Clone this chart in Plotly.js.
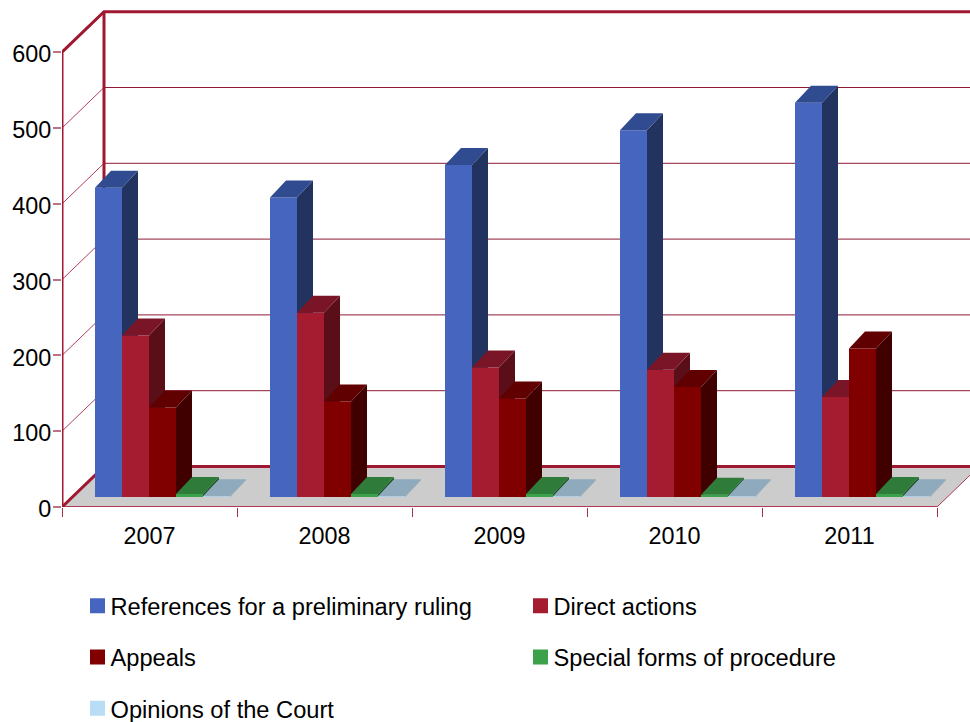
<!DOCTYPE html>
<html>
<head>
<meta charset="utf-8">
<script src="https://cdn.plot.ly/plotly-3.0.1.min.js"></script>
<style>
html,body{margin:0;padding:0;background:#fff}
/* the reference sets the legend text closer to its swatch than Plotly's default gap */
.infolayer text{transform:translateX(-7px)}
</style>
</head>
<body>
<div id="chart" style="width:970px;height:722px"></div>
<script>
// ---- data ----
const years = ['2007', '2008', '2009', '2010', '2011'];
const yTicks = [0, 100, 200, 300, 400, 500, 600];
const references = [408, 395, 438, 484, 520];
const directActions = [213, 243, 171, 168, 132];
const appeals = [118, 126, 130, 145, 196];
const specialForms = [4, 4, 4, 3, 4];
const opinions = [1, 1, 1, 1, 1];
const seriesNames = ['References for a preliminary ruling', 'Direct actions', 'Appeals', 'Special forms of procedure', 'Opinions of the Court'];

// ---- style ----
const values = [references, directActions, appeals, specialForms, opinions];
const frontColors = ['#4565BF', '#A51C30', '#800000', '#3BA24B', '#B9DDF5'];
const topColors = ['#304B90', '#7A1527', '#600000', '#2F7B3A', '#8FAABD'];
const sideColors = ['#22335F', '#5A0E18', '#400000', '#1F5528', '#7D97A8'];
const legendHome = ['', '2', '', '2', ''];

const pxPerCat = 175, pxPerUnit = 0.758;
const px = d => d / pxPerCat, py = d => d / pxPerUnit;
const wallDX = px(42), wallDY = py(40.5);
const barDX = px(16), barDY = py(17);
const baseY = py(10);
const barW = px(27), firstBar = px(33);
const xStart = -0.5, xEnd = xStart + 908 / pxPerCat;
const yEnd = py(507);
const xRange = [xStart, xEnd], yRange = [0, yEnd];
const font = {family: '"Liberation Sans", Arial, sans-serif', size: 23.4, color: '#000'};
const legendFont = {family: '"Liberation Sans", Arial, sans-serif', size: 23.65, color: '#000'};

const poly = (pts, extra) => Object.assign({
  x: pts.map(p => p ? p[0] : null), y: pts.map(p => p ? p[1] : null),
  type: 'scatter', mode: 'none', fill: 'toself', cliponaxis: false,
  showlegend: false, hoverinfo: 'skip'
}, extra);
const line = (pts, color, width, extra) => Object.assign({
  x: pts.map(p => p ? p[0] : null), y: pts.map(p => p ? p[1] : null),
  type: 'scatter', mode: 'lines', line: {color, width}, cliponaxis: false,
  showlegend: false, hoverinfo: 'skip'
}, extra);

const traces = [];
const lastX = years.length - 0.5;
// floor
traces.push(poly([[xStart, 0], [xStart + wallDX, wallDY], [lastX + wallDX, wallDY], [lastX, 0]], {fillcolor: '#CCCCCC'}));
// back-wall grid lines and their diagonals
const gridPts = [], diagPts = [];
yTicks.slice(1, -1).forEach(v => {
  gridPts.push([xStart + wallDX, v + wallDY], [xEnd + 1, v + wallDY], null);
  diagPts.push([xStart, v], [xStart + wallDX, v + wallDY], null);
});
traces.push(line(gridPts, '#8E1A33', 1));
traces.push(line(diagPts, '#B0405A', 1));
// frame
const wallTop = yTicks[yTicks.length - 1];
traces.push(line([[xStart, 0], [lastX, 0]], '#B03A55', 2));
traces.push(line([[lastX, 0], [lastX + wallDX, wallDY]], '#B03A55', 1));
traces.push(line([[xStart + wallDX, wallDY], [xEnd + 1, wallDY]], '#A01830', 3));
traces.push(line([[xStart, 0], [xStart, wallTop], [xStart + wallDX, wallTop + wallDY], [xEnd + 1, wallTop + wallDY]], '#A01830', 3));
traces.push(line([[xStart, 0], [xStart + wallDX, wallDY], [xStart + wallDX, wallTop + wallDY]], '#A01830', 3));

// one overlay subplot per series so that later series cover earlier ones
const overlayAxes = {};
values.forEach((vals, s) => {
  const n = s + 2;
  const ax = {xaxis: 'x' + n, yaxis: 'y' + n};
  overlayAxes['xaxis' + n] = {overlaying: 'x', range: xRange, visible: false, fixedrange: true};
  overlayAxes['yaxis' + n] = {overlaying: 'y', range: yRange, visible: false, fixedrange: true};
  const left = years.map((_, i) => xStart + i + firstBar + s * barW);
  const sidePts = [], topPts = [];
  vals.forEach((v, i) => {
    const L = left[i], R = L + barW, B = baseY, T = baseY + v;
    sidePts.push([R, B], [R + barDX, B + barDY], [R + barDX, T + barDY], [R, T], null);
    topPts.push([L, T], [L + barDX, T + barDY], [R + barDX, T + barDY], [R, T], null);
  });
  traces.push(poly(sidePts, Object.assign({fillcolor: sideColors[s]}, ax)));
  traces.push(poly(topPts, Object.assign({fillcolor: topColors[s]}, ax)));
  traces.push(Object.assign({
    type: 'bar', x: left.map(l => l + barW / 2), y: vals, base: years.map(() => baseY),
    width: years.map(() => barW), marker: {color: frontColors[s], line: {width: 0}},
    cliponaxis: false, showlegend: false, name: seriesNames[s], text: years, textposition: 'none', hoverinfo: 'text+y'
  }, ax));
});

// legend entries
seriesNames.forEach((name, s) => {
  traces.push({
    type: 'scatter', mode: 'markers', x: [null], y: [null], name,
    marker: {symbol: 'square', size: 15, color: frontColors[s]},
    legend: 'legend' + legendHome[s], legendgroup: 's' + s, showlegend: true
  });
});

const legendBase = {
  xref: 'container', yref: 'container', yanchor: 'top', xanchor: 'left',
  font: legendFont, bgcolor: 'rgba(0,0,0,0)', tracegroupgap: 17.5, itemclick: false, itemdoubleclick: false
};

const layout = Object.assign({
  width: 970, height: 722, paper_bgcolor: '#fff', plot_bgcolor: 'rgba(0,0,0,0)',
  margin: {l: 62, r: 0, t: 0, b: 215, pad: 0, autoexpand: false}, font, barmode: 'overlay',
  xaxis: {
    range: xRange, tickmode: 'array', tickvals: years.map((_, i) => i), ticktext: years,
    ticks: 'outside', ticklen: 8, tickcolor: 'rgba(0,0,0,0)', showgrid: false, zeroline: false,
    showline: false, tickfont: font, fixedrange: true
  },
  yaxis: {
    range: yRange, tickmode: 'array', tickvals: yTicks, ticktext: yTicks.map(String),
    ticks: 'outside', ticklen: 8, tickcolor: '#C07085', tickwidth: 2, showgrid: false, zeroline: false,
    showline: false, tickfont: font, fixedrange: true, ticklabelstandoff: -3, ticklabelshift: 2
  },
  xaxis7: {
    overlaying: 'x', anchor: 'y', side: 'bottom', range: xRange, tickmode: 'array',
    tickvals: years.map((_, i) => i - 0.5).concat([lastX]), showticklabels: false,
    ticks: 'outside', ticklen: 9, tickcolor: '#A5304A', tickwidth: 1,
    showgrid: false, zeroline: false, showline: false, fixedrange: true
  },
  legend: Object.assign({x: 77.5 / 970, y: 1 - 584 / 722}, legendBase),
  legend2: Object.assign({x: 520.5 / 970, y: 1 - 584 / 722}, legendBase),
  showlegend: true
}, overlayAxes);

// the tick-mark axis needs a trace to be drawn
traces.push({type: 'scatter', mode: 'none', x: [null], y: [null], xaxis: 'x7', yaxis: 'y', showlegend: false, hoverinfo: 'skip'});

Plotly.newPlot('chart', traces, layout, {displayModeBar: false});
</script>
</body>
</html>
